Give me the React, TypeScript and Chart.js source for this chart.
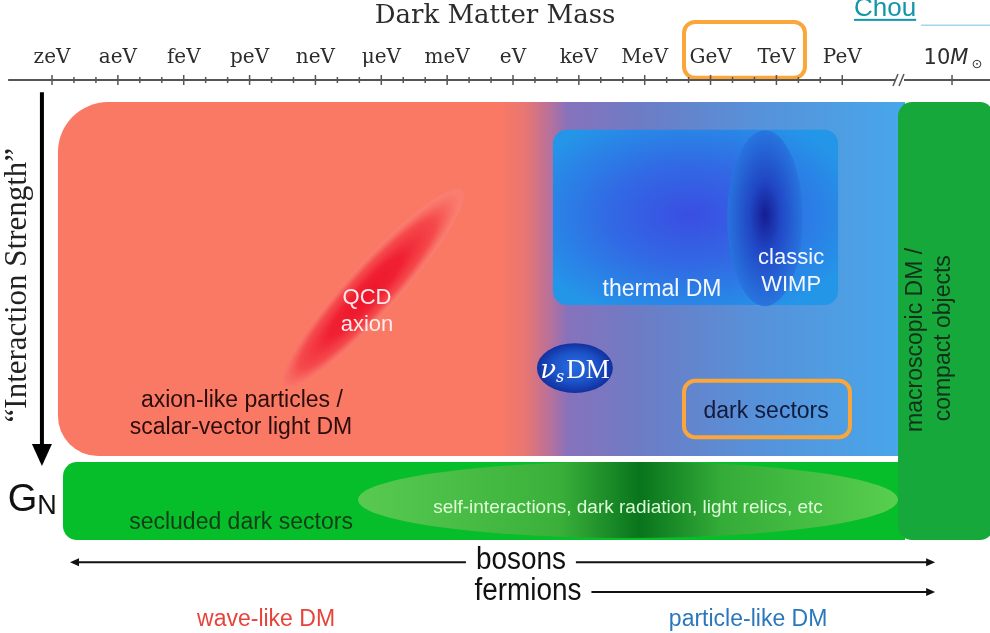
import React, { useEffect, useRef } from 'react';
import { Chart, registerables } from 'chart.js';

Chart.register(...registerables);

// ---------- Axis data: log10(mass / eV) ----------
const MASS_LABELS = ['zeV', 'aeV', 'feV', 'peV', 'neV', 'μeV', 'meV', 'eV', 'keV', 'MeV', 'GeV', 'TeV', 'PeV'];
const MASS_EXPONENTS = [-21, -18, -15, -12, -9, -6, -3, 0, 3, 6, 9, 12, 15];
const MINOR_EXPONENTS = [-20, -19, -17, -16, -14, -13, -11, -10, -8, -7, -5, -4, -2, -1, 1, 2, 4, 5, 7, 8, 10, 11, 13, 14];
const SOLAR_EXPONENT = 20; // 10 M_sun (after the axis break)
const AXIS_BREAK = 17.63;
const AXIS_START = -23.0;
const X_MIN = -23.37;
const X_MAX = 21.73;
// "Interaction strength" in arbitrary units (0 = strongest, top)
const Y_MIN = 0;
const Y_MAX = 10;

// ---------- Regions [xFrom, xTo, yFrom, yTo] ----------
const PARTICLE_REGION = [-20.73, 17.86, 0.4, 6.8];
const THERMAL_REGION = [1.82, 14.81, 0.9, 4.07];
const SECLUDED_REGION = [-20.5, 17.86, 6.91, 8.32];
const MACRO_REGION = [17.54, 21.9, 0.4, 8.32];
const DARK_SECTORS_BOX = [7.79, 15.35, 5.44, 6.46];
const HIGHLIGHT_BOX = [7.79, 13.3, -1.05, -0.04];

// ---------- Ellipses [cx, cy, rx, ry] ----------
const WIMP_ELLIPSE = [11.48, 2.5, 1.72, 1.59];
const NUS_ELLIPSE = [2.82, 5.21, 1.73, 0.45];
const SELF_INT_ELLIPSE = [5.24, 7.59, 12.3, 0.69];
const THERMAL_CORE = [8.06, 2.44];
// QCD axion band: [xStart, yStart, xEnd, yEnd]
const QCD_BAND = [-10.39, 5.52, -2.32, 1.99];

// ---------- Arrows ----------
const STRENGTH_ARROW = [-21.46, 0.22, 6.98]; // x, yFrom, yTo
const BOSON_ARROW = [-20.18, 19.23, 8.72]; // xFrom, xTo, y (double headed)
const FERMION_ARROW = [3.51, 19.23, 9.26]; // xFrom, xTo, y
const CHOU_LINE = [18.59, 21.73, -0.99];

// ---------- Gradient positions along mass ----------
const PARTICLE_GRAD_AT = [-0.59, 0.55, 1.59, 2.51, 6.24, 11.25, 17.63];
const SELF_INT_GRAD_AT = [-7.0, 2.1, 5.8, 9.5, 17.3];

// ---------- Labels ----------
const SANS = '"Liberation Sans", Arial, sans-serif';
const TEXT_LABELS = [
  { text: 'QCD', x: -6.65, y: 3.94, size: 22, color: 'rgba(255,240,240,0.97)' },
  { text: 'axion', x: -6.65, y: 4.43, size: 22, color: 'rgba(255,240,240,0.97)' },
  { text: 'axion-like particles /', x: -12.35, y: 5.8, size: 23, color: '#2a0d0a' },
  { text: 'scalar-vector light DM', x: -12.39, y: 6.29, size: 23, color: '#2a0d0a' },
  { text: 'thermal DM', x: 6.79, y: 3.8, size: 23, color: '#f4f8ff' },
  { text: 'classic', x: 12.67, y: 3.22, size: 22, color: '#f4f8ff' },
  { text: 'WIMP', x: 12.67, y: 3.71, size: 22, color: '#f4f8ff' },
  { text: 'dark sectors', x: 11.53, y: 5.99, size: 23, color: '#141a3c' },
  { text: 'secluded dark sectors', x: -12.39, y: 8.01, size: 23, color: '#143c18' },
  { text: 'self-interactions, dark radiation, light relics, etc', x: 5.24, y: 7.74, size: 19, color: 'rgba(232,255,225,0.95)' },
  { text: 'wave-like DM', x: -11.25, y: 9.75, size: 23, color: '#e8433a' },
  { text: 'particle-like DM', x: 10.71, y: 9.75, size: 23, color: '#2a78bb' },
];
const ROTATED_LABELS = [
  { text: 'macroscopic DM /', x: 18.36, y: 4.7, size: 23, color: '#10301a' },
  { text: 'compact objects', x: 19.64, y: 4.67, size: 23, color: '#10301a' },
];
const ARROW_LABELS = [
  { text: 'bosons', x: 0.36, y: 8.68 },
  { text: 'fermions', x: 0.68, y: 9.24 },
];
const STRENGTH_LABEL = { text: '\u201CInteraction Strength\u201D', x: -22.55, y: 3.71 };
const GN_LABEL = { x: -21.9, y: 7.79 };
const NUS_LABEL = { x: 2.82, y: 5.23 };
const CHOU_LABEL = { text: 'Chou', x: 16.95, y: -1.16 };

function rrect(ctx: CanvasRenderingContext2D, x0: number, y0: number, x1: number, y1: number, r: number[]) {
  const [tl, tr, br, bl] = r;
  ctx.beginPath();
  ctx.moveTo(x0 + tl, y0);
  ctx.lineTo(x1 - tr, y0);
  ctx.arcTo(x1, y0, x1, y0 + tr, tr);
  ctx.lineTo(x1, y1 - br);
  ctx.arcTo(x1, y1, x1 - br, y1, br);
  ctx.lineTo(x0 + bl, y1);
  ctx.arcTo(x0, y1, x0, y1 - bl, bl);
  ctx.lineTo(x0, y0 + tl);
  ctx.arcTo(x0, y0, x0 + tl, y0, tl);
  ctx.closePath();
}

const clamp01 = (v: number) => Math.max(0, Math.min(1, v));

const diagramPlugin = {
  id: 'dmDiagram',
  afterDraw(chart: any) {
    const ctx: CanvasRenderingContext2D = chart.ctx;
    const xs = chart.scales.x;
    const ys = chart.scales.y;
    const X = (v: number) => xs.getPixelForValue(v);
    const Y = (v: number) => ys.getPixelForValue(v);
    ctx.save();

    // --- main particle/wave region ---
    {
      const [a, b, c, d] = PARTICLE_REGION;
      const x0 = X(a), x1 = X(b), y0 = Y(c), y1 = Y(d);
      const cols = ['rgb(249,121,101)', 'rgb(232,118,114)', 'rgb(188,113,152)', 'rgb(134,114,188)', 'rgb(106,126,198)', 'rgb(86,146,218)', 'rgb(72,166,234)'];
      const g = ctx.createLinearGradient(x0, 0, x1, 0);
      PARTICLE_GRAD_AT.forEach((v, i) => g.addColorStop(clamp01((X(v) - x0) / (x1 - x0)), cols[i]));
      g.addColorStop(0, cols[0]);
      g.addColorStop(1, cols[cols.length - 1]);
      rrect(ctx, x0, y0, x1, y1, [50, 0, 0, 40]);
      ctx.fillStyle = g;
      ctx.fill();
    }

    // --- QCD axion band ---
    {
      const [xa, ya, xb, yb] = QCD_BAND;
      const p1x = X(xa), p1y = Y(ya), p2x = X(xb), p2y = Y(yb);
      const cx = (p1x + p2x) / 2, cy = (p1y + p2y) / 2;
      const half = Math.hypot(p2x - p1x, p2y - p1y) / 2;
      const ang = Math.atan2(p2y - p1y, p2x - p1x);
      ctx.save();
      ctx.translate(cx, cy);
      ctx.rotate(ang);
      ctx.scale(half, 25);
      const g = ctx.createRadialGradient(-0.12, 0, 0, -0.05, 0, 1);
      g.addColorStop(0, 'rgba(238,20,42,1)');
      g.addColorStop(0.4, 'rgba(240,30,50,0.97)');
      g.addColorStop(0.75, 'rgba(244,62,70,0.8)');
      g.addColorStop(1, 'rgba(250,130,120,0.55)');
      ctx.beginPath();
      ctx.arc(0, 0, 1, 0, Math.PI * 2);
      ctx.fillStyle = g;
      ctx.fill();
      ctx.restore();
    }

    // --- thermal DM box ---
    {
      const [a, b, c, d] = THERMAL_REGION;
      const x0 = X(a), x1 = X(b), y0 = Y(c), y1 = Y(d);
      const [tcx, tcy] = THERMAL_CORE;
      ctx.save();
      rrect(ctx, x0, y0, x1, y1, [14, 14, 14, 14]);
      ctx.clip();
      ctx.translate(X(tcx), Y(tcy));
      ctx.scale(1, 0.62);
      const g = ctx.createRadialGradient(0, 0, 0, 0, 0, 175);
      g.addColorStop(0, 'rgb(58,78,226)');
      g.addColorStop(0.45, 'rgb(50,104,228)');
      g.addColorStop(1, 'rgb(36,150,232)');
      ctx.fillStyle = g;
      ctx.fillRect(-400, -400, 800, 800);
      ctx.restore();
    }

    // --- classic WIMP ellipse ---
    {
      const [cx, cy, rx, ry] = WIMP_ELLIPSE;
      const pcx = X(cx), pcy = Y(cy);
      const prx = X(cx + rx) - pcx, pry = Y(cy + ry) - pcy;
      ctx.save();
      ctx.translate(pcx, pcy);
      ctx.scale(prx, pry);
      const g = ctx.createRadialGradient(0, -0.04, 0, 0, 0, 1);
      g.addColorStop(0, 'rgb(22,28,146)');
      g.addColorStop(0.4, 'rgb(32,70,196)');
      g.addColorStop(1, 'rgba(40,116,222,0.95)');
      ctx.beginPath();
      ctx.arc(0, 0, 1, 0, Math.PI * 2);
      ctx.fillStyle = g;
      ctx.fill();
      ctx.restore();
    }

    // --- nu_s DM ellipse ---
    {
      const [cx, cy, rx, ry] = NUS_ELLIPSE;
      const pcx = X(cx), pcy = Y(cy);
      const prx = X(cx + rx) - pcx, pry = Y(cy + ry) - pcy;
      ctx.save();
      ctx.translate(pcx, pcy);
      ctx.scale(prx, pry);
      const g = ctx.createRadialGradient(0, -0.1, 0, 0, 0, 1);
      g.addColorStop(0, 'rgb(40,110,222)');
      g.addColorStop(0.6, 'rgb(28,82,200)');
      g.addColorStop(1, 'rgb(18,48,160)');
      ctx.beginPath();
      ctx.arc(0, 0, 1, 0, Math.PI * 2);
      ctx.fillStyle = g;
      ctx.fill();
      ctx.restore();
    }

    // --- secluded bar with self-interaction ellipse ---
    {
      const [a, b, c, d] = SECLUDED_REGION;
      const x0 = X(a), x1 = X(b), y0 = Y(c), y1 = Y(d);
      rrect(ctx, x0, y0, x1, y1, [14, 0, 0, 14]);
      ctx.fillStyle = 'rgb(6,190,42)';
      ctx.fill();
      ctx.save();
      rrect(ctx, x0, y0, x1, y1, [14, 0, 0, 14]);
      ctx.clip();
      const [cx, cy, rx, ry] = SELF_INT_ELLIPSE;
      const pcx = X(cx), pcy = Y(cy);
      const prx = X(cx + rx) - pcx, pry = Y(cy + ry) - pcy;
      const ex0 = pcx - prx, ex1 = pcx + prx;
      const cols = ['rgb(88,202,82)', 'rgb(58,176,58)', 'rgb(8,116,28)', 'rgb(52,172,56)', 'rgb(88,206,78)'];
      const g = ctx.createLinearGradient(ex0, 0, ex1, 0);
      SELF_INT_GRAD_AT.forEach((v, i) => g.addColorStop(clamp01((X(v) - ex0) / (ex1 - ex0)), cols[i]));
      g.addColorStop(0, cols[0]);
      g.addColorStop(1, cols[cols.length - 1]);
      ctx.beginPath();
      ctx.ellipse(pcx, pcy, prx, pry, 0, 0, Math.PI * 2);
      ctx.fillStyle = g;
      ctx.fill();
      ctx.restore();
    }

    // --- macroscopic DM box ---
    {
      const [a, b, c, d] = MACRO_REGION;
      rrect(ctx, X(a), Y(c), X(b), Y(d), [14, 14, 14, 14]);
      ctx.fillStyle = 'rgb(22,168,58)';
      ctx.fill();
    }

    // --- orange highlight boxes ---
    ctx.strokeStyle = 'rgb(250,166,58)';
    ctx.lineWidth = 4;
    for (const box of [DARK_SECTORS_BOX, HIGHLIGHT_BOX]) {
      const [a, b, c, d] = box;
      rrect(ctx, X(a), Y(c), X(b), Y(d), [11, 11, 11, 11]);
      ctx.stroke();
    }

    // --- text labels ---
    ctx.textAlign = 'center';
    ctx.textBaseline = 'middle';
    for (const l of TEXT_LABELS) {
      ctx.font = `${l.size}px ${SANS}`;
      ctx.fillStyle = l.color;
      ctx.fillText(l.text, X(l.x), Y(l.y));
    }
    for (const l of ROTATED_LABELS) {
      ctx.save();
      ctx.translate(X(l.x), Y(l.y));
      ctx.rotate(-Math.PI / 2);
      ctx.font = `${l.size}px ${SANS}`;
      ctx.fillStyle = l.color;
      ctx.fillText(l.text, 0, 0);
      ctx.restore();
    }

    // nu_s DM label
    {
      const bx = X(NUS_LABEL.x), by = Y(NUS_LABEL.y);
      ctx.fillStyle = '#ffffff';
      ctx.textBaseline = 'alphabetic';
      ctx.textAlign = 'left';
      const fNu = 'italic 26px "DejaVu Serif", serif';
      const fS = 'italic 16px "DejaVu Serif", serif';
      const fDM = '27px "Liberation Serif", serif';
      ctx.font = fNu; const wNu = ctx.measureText('ν').width;
      ctx.font = fS; const wS = ctx.measureText('s').width;
      ctx.font = fDM; const wDM = ctx.measureText('DM').width;
      let sx = bx - (wNu + wS + 2 + wDM) / 2;
      const base = by + 9;
      ctx.font = fNu; ctx.fillText('ν', sx, base); sx += wNu;
      ctx.font = fS; ctx.fillText('s', sx, base + 4); sx += wS + 2;
      ctx.font = fDM; ctx.fillText('DM', sx, base);
    }

    // G_N
    {
      ctx.fillStyle = '#111';
      ctx.textBaseline = 'alphabetic';
      ctx.textAlign = 'left';
      ctx.font = `38px ${SANS}`; const wG = ctx.measureText('G').width;
      ctx.font = `27px ${SANS}`; const wN = ctx.measureText('N').width;
      const sx = X(GN_LABEL.x) - (wG + wN) / 2;
      const base = Y(GN_LABEL.y);
      ctx.font = `38px ${SANS}`; ctx.fillText('G', sx, base);
      ctx.font = `27px ${SANS}`; ctx.fillText('N', sx + wG, base + 3);
    }

    // Interaction strength arrow + label
    {
      const [ax, ya, yb] = STRENGTH_ARROW;
      const px = X(ax), p0 = Y(ya), p1 = Y(yb);
      ctx.strokeStyle = '#000';
      ctx.fillStyle = '#000';
      ctx.lineWidth = 4;
      ctx.beginPath();
      ctx.moveTo(px, p0);
      ctx.lineTo(px, p1 - 18);
      ctx.stroke();
      ctx.beginPath();
      ctx.moveTo(px - 10, p1 - 22);
      ctx.lineTo(px + 10, p1 - 22);
      ctx.lineTo(px, p1);
      ctx.closePath();
      ctx.fill();
      ctx.save();
      ctx.translate(X(STRENGTH_LABEL.x), Y(STRENGTH_LABEL.y));
      ctx.rotate(-Math.PI / 2);
      ctx.textAlign = 'center';
      ctx.textBaseline = 'middle';
      ctx.font = '31px "Liberation Serif", serif';
      ctx.fillStyle = '#222';
      ctx.fillText(STRENGTH_LABEL.text, 0, 0);
      ctx.restore();
    }

    // bosons / fermions arrows
    {
      const head = (x: number, y: number, dir: number) => {
        ctx.beginPath();
        ctx.moveTo(x, y);
        ctx.lineTo(x - dir * 9, y - 4);
        ctx.lineTo(x - dir * 9, y + 4);
        ctx.closePath();
        ctx.fill();
      };
      ctx.strokeStyle = '#111';
      ctx.fillStyle = '#111';
      ctx.lineWidth = 2;
      const [bx0, bx1, by] = BOSON_ARROW;
      ctx.beginPath();
      ctx.moveTo(X(bx0) + 4, Y(by));
      ctx.lineTo(X(bx1) - 4, Y(by));
      ctx.stroke();
      head(X(bx0), Y(by), -1);
      head(X(bx1), Y(by), 1);
      const [fx0, fx1, fy] = FERMION_ARROW;
      ctx.beginPath();
      ctx.moveTo(X(fx0), Y(fy));
      ctx.lineTo(X(fx1) - 4, Y(fy));
      ctx.stroke();
      head(X(fx1), Y(fy), 1);
      ctx.font = `31px ${SANS}`;
      ctx.textAlign = 'center';
      ctx.textBaseline = 'middle';
      for (const l of ARROW_LABELS) {
        const w = ctx.measureText(l.text).width * 0.9;
        ctx.fillStyle = '#ffffff';
        ctx.fillRect(X(l.x) - w / 2 - 10, Y(l.y) - 15, w + 20, 30);
        ctx.fillStyle = '#111';
        ctx.save();
        ctx.translate(X(l.x), Y(l.y));
        ctx.scale(0.9, 1);
        ctx.fillText(l.text, 0, 0);
        ctx.restore();
      }
    }

    // --- mass axis line, ticks, break ---
    {
      const ay = Y(0);
      ctx.strokeStyle = '#555';
      ctx.lineWidth = 2;
      ctx.beginPath();
      ctx.moveTo(X(AXIS_START), ay);
      ctx.lineTo(X(AXIS_BREAK) - 5, ay);
      ctx.moveTo(X(AXIS_BREAK) + 4, ay);
      ctx.lineTo(X(X_MAX), ay);
      ctx.stroke();
      ctx.lineWidth = 1.5;
      ctx.beginPath();
      for (const v of [...MASS_EXPONENTS, SOLAR_EXPONENT]) {
        ctx.moveTo(X(v), ay - 5);
        ctx.lineTo(X(v), ay + 5);
      }
      for (const v of MINOR_EXPONENTS) {
        ctx.moveTo(X(v), ay - 3);
        ctx.lineTo(X(v), ay + 3);
      }
      ctx.stroke();
      const bx = X(AXIS_BREAK);
      ctx.beginPath();
      ctx.moveTo(bx - 7, ay + 6); ctx.lineTo(bx - 2, ay - 6);
      ctx.moveTo(bx - 1, ay + 6); ctx.lineTo(bx + 4, ay - 6);
      ctx.stroke();

      // 10 M_sun label
      const sx = X(SOLAR_EXPONENT);
      const base = ay - 16;
      ctx.fillStyle = '#2e2e2e';
      ctx.textBaseline = 'alphabetic';
      ctx.textAlign = 'left';
      const f10 = '21px "DejaVu Sans", sans-serif';
      const fM = 'italic 21px "DejaVu Sans", sans-serif';
      ctx.font = f10;
      const w10 = ctx.measureText('10').width;
      ctx.font = fM;
      const wM = ctx.measureText('M').width;
      const start = sx - (w10 + wM) / 2 - 6;
      ctx.font = f10;
      ctx.fillText('10', start, base);
      ctx.font = fM;
      ctx.fillText('M', start + w10, base);
      ctx.font = '13px "DejaVu Sans", sans-serif';
      ctx.fillText('⊙', start + w10 + wM + 3, base + 4);
    }

    // Chou link
    {
      ctx.font = `26px ${SANS}`;
      ctx.fillStyle = 'rgb(18,150,170)';
      ctx.textAlign = 'center';
      ctx.textBaseline = 'alphabetic';
      const cx = X(CHOU_LABEL.x), cy = Y(CHOU_LABEL.y);
      const w = ctx.measureText(CHOU_LABEL.text).width;
      ctx.fillText(CHOU_LABEL.text, cx, cy);
      ctx.fillRect(cx - w / 2, cy + 3, w, 2);
      const [l0, l1, ly] = CHOU_LINE;
      ctx.strokeStyle = 'rgb(165,212,235)';
      ctx.lineWidth = 1.5;
      ctx.beginPath();
      ctx.moveTo(X(l0), Y(ly));
      ctx.lineTo(X(l1), Y(ly));
      ctx.stroke();
    }

    ctx.restore();
  },
};

export default function App() {
  const ref = useRef<HTMLCanvasElement | null>(null);
  useEffect(() => {
    if (!ref.current) return;
    const chart = new Chart(ref.current, {
      type: 'scatter',
      data: { datasets: [] },
      options: {
        responsive: false,
        animation: false,
        layout: { padding: 0 },
        plugins: { legend: { display: false }, tooltip: { enabled: false } },
        scales: {
          x: {
            type: 'linear',
            position: 'top',
            min: X_MIN,
            max: X_MAX,
            afterBuildTicks: (s: any) => {
              const vals = [...MASS_EXPONENTS, ...MINOR_EXPONENTS, SOLAR_EXPONENT].sort((a, b) => a - b);
              s.ticks = vals.map((v) => ({ value: v }));
            },
            afterFit: (s: any) => {
              s.height = 80;
            },
            ticks: {
              autoSkip: false,
              maxRotation: 0,
              minRotation: 0,
              padding: 10,
              color: '#2c2c2c',
              font: { family: '"DejaVu Serif", serif', size: 20 },
              callback: (v: any) => {
                const i = MASS_EXPONENTS.indexOf(Number(v));
                return i >= 0 ? MASS_LABELS[i] : '';
              },
            },
            grid: { display: false, drawTicks: false },
            border: { display: false },
            title: {
              display: true,
              text: 'Dark Matter Mass',
              color: '#2c2c2c',
              font: { family: '"DejaVu Serif", serif', size: 26 },
              padding: { top: 1, bottom: 0 },
            },
          },
          y: { type: 'linear', display: false, min: Y_MIN, max: Y_MAX, reverse: true },
        },
      },
      plugins: [diagramPlugin],
    });
    return () => chart.destroy();
  }, []);
  return (
    <div style={{ position: 'fixed', left: 0, top: 0, width: 990, height: 633, background: '#fff' }}>
      <canvas ref={ref} width={990} height={633} style={{ display: 'block' }} />
    </div>
  );
}
